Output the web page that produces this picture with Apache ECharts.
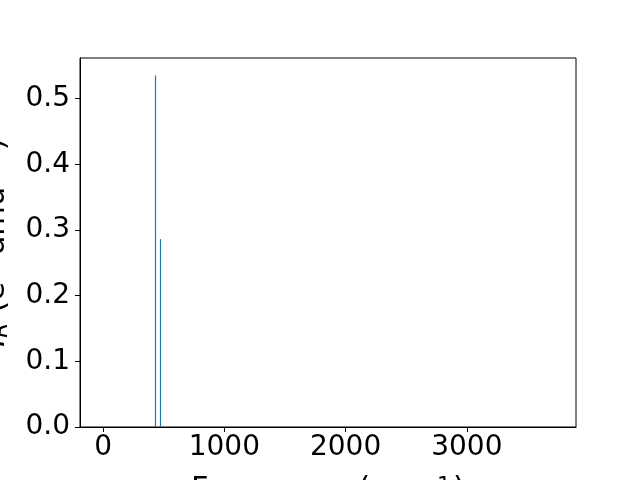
<!DOCTYPE html>
<html>
<head>
<meta charset="utf-8">
<script src="https://cdn.jsdelivr.net/npm/echarts@6/dist/echarts.min.js"></script>
<style>html,body{margin:0;padding:0;background:#fff}#c{width:640px;height:480px}</style>
</head>
<body>
<div id="c"></div>
<script>
const frequencies = [431, 472];
const intensities = [0.535, 0.286];
const xTicks = [0, 1000, 2000, 3000];
const yTicks = [0, 0.1, 0.2, 0.3, 0.4, 0.5];

const chart = echarts.init(document.getElementById('c'), null, {renderer: 'canvas'});
const font = 'DejaVu Sans';
chart.setOption({
  animation: false,
  backgroundColor: '#fff',
  grid: {left: 80, right: 64, top: 58, bottom: 53, containLabel: false, outerBoundsMode: 'none',
    show: true, borderColor: '#000', borderWidth: 1, backgroundColor: 'transparent'},
  xAxis: {
    type: 'value', min: -190, max: 3900,
    splitLine: {show: false},
    axisLine: {show: true, onZero: false, lineStyle: {color: '#000', width: 1}},
    axisTick: {show: true, length: 5, lineStyle: {color: '#000'}, customValues: xTicks},
    axisLabel: {show: true, fontFamily: font, fontSize: 28, color: '#000', margin: 7, customValues: xTicks,
      formatter: v => String(v)},
    name: 'Frequency (cm{sup|−1})',
    nameLocation: 'middle', nameGap: 48,
    nameTextStyle: {fontFamily: font, fontSize: 30.5, color: '#000', rich: {sup: {fontFamily: font, fontSize: 22, color: '#000', verticalAlign: 'top', padding: [0, 2, 0, 2]}}}
  },
  yAxis: {
    type: 'value', min: 0, max: 0.5617,
    splitLine: {show: false},
    axisLine: {show: true, onZero: false, lineStyle: {color: '#000', width: 1}},
    axisTick: {show: true, length: 5, lineStyle: {color: '#000'}, customValues: yTicks},
    axisLabel: {show: true, fontFamily: font, fontSize: 28, color: '#000', margin: 10, customValues: yTicks,
      formatter: v => v.toFixed(1)},
    name: '{i|I}{sub|R} (e{sup|2} amu{sup|−1})',
    nameLocation: 'middle', nameGap: 68, nameRotate: 90,
    nameTextStyle: {fontFamily: font, fontSize: 30.5, color: '#000',
      rich: {
        i: {fontFamily: font, fontStyle: 'italic', fontSize: 30.5, color: '#000'},
        sub: {fontFamily: font, fontStyle: 'italic', fontSize: 22, color: '#000', verticalAlign: 'bottom'},
        sup: {fontFamily: font, fontSize: 22, color: '#000', verticalAlign: 'top', padding: [0, 2, 0, 2]}
      }}
  },
  series: [{
    type: 'custom',
    data: frequencies.map((f, i) => [f, intensities[i]]),
    silent: true,
    renderItem: function (params, api) {
      const top = api.coord([api.value(0), api.value(1)]);
      const base = api.coord([api.value(0), 0]);
      const x = Math.floor(top[0]) + 0.5;
      return {
        type: 'line',
        shape: {x1: x, y1: base[1], x2: x, y2: top[1]},
        style: {stroke: '#1f77b4', lineWidth: 1.2}
      };
    }
  }]
});
</script>
</body>
</html>
